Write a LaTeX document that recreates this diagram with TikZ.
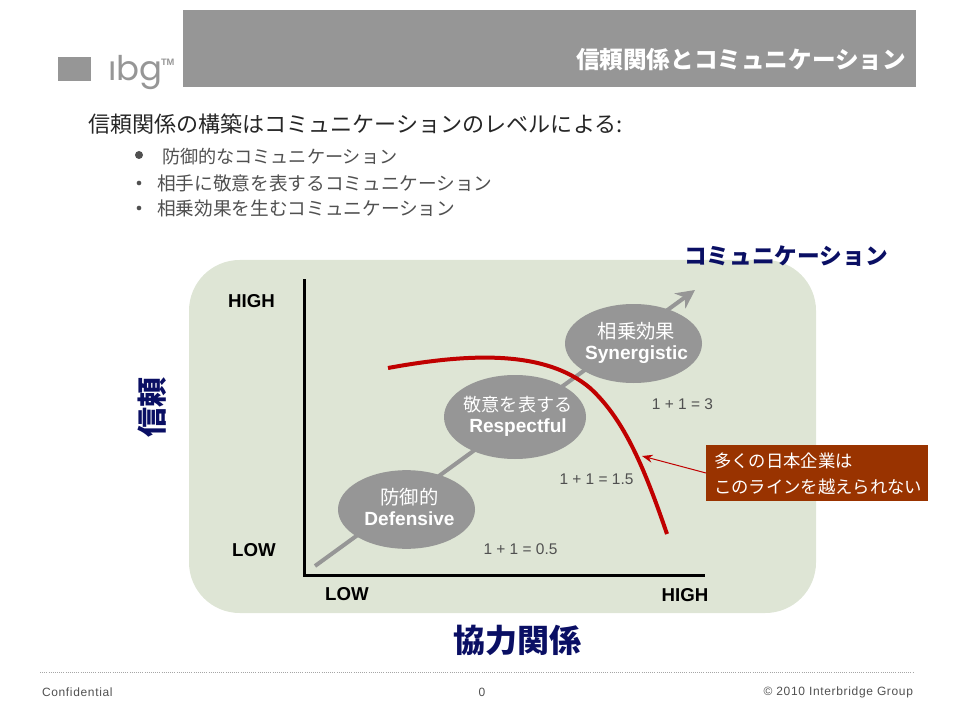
\documentclass[tikz,border=0pt]{standalone}
\usepackage{fontspec}
\setmainfont{Liberation Sans}
\newfontfamily\jpf{Noto Sans CJK JP}
\newfontfamily\logof{Poppins}
\usetikzlibrary{arrows.meta,shapes.geometric}
\definecolor{hdrgray}{HTML}{969696}
\definecolor{panel}{HTML}{DEE5D5}
\definecolor{navy}{HTML}{0A0F64}
\definecolor{curve}{HTML}{C00000}
\definecolor{callout}{HTML}{993300}
\definecolor{txtgray}{HTML}{505050}
\newcommand{\fsz}[1]{\fontsize{#1}{#1}\selectfont}
\newcommand{\levtext}[3]{\makebox[0pt]{\hspace{4.5pt}\raisebox{4pt}{\jpf\fsz{#3}#1}}\\[-0.5pt]\makebox[0pt]{\hspace{4.5pt}\raisebox{4pt}{\bfseries #2}}}
\tikzset{
  x=0.75pt,y=-0.75pt,
  lbl/.style={inner sep=0pt,outer sep=0pt},
  axislbl/.style={lbl,font=\fsz{14}\bfseries},
  eqlbl/.style={lbl,font=\fsz{11.6},text=txtgray},
  levelbox/.style={ellipse,fill=hdrgray,inner sep=0pt,text=white,align=center,font=\fsz{14.3}\linespread{1.17}\selectfont},
  bulletlbl/.style={lbl,anchor=west,text=txtgray,font=\jpf\fsz{14}},
  dotmark/.style={circle,fill=txtgray,inner sep=0pt},
  navylbl/.style={lbl,text=navy,font=\jpf\bfseries},
  footlbl/.style={lbl,text=txtgray,font=\fsz{9}\addfontfeature{LetterSpace=5.5}}
}
\begin{document}
\begin{tikzpicture}
\useasboundingbox (0,0) rectangle (963,720);
% header
\node[fill=hdrgray,lbl,anchor=north west,minimum width=549.75pt,minimum height=57.75pt] (hdr) at (183,10) {};
\node[lbl,anchor=east,text=white,font=\jpf\bfseries\fsz{17.7}] (title) at (906,60) {信頼関係とコミュニケーション};
% logo
\node[fill=hdrgray,lbl,anchor=north west,minimum width=24.75pt,minimum height=18pt] (logosq) at (58,57) {};
\node[lbl,anchor=base west,text=hdrgray,font=\logof\fsz{25.5}] (logo) at (108,81) {ıbg};
\node[lbl,anchor=base west,text=hdrgray,font=\fsz{7}\bfseries] (tm) at (161,66) {TM};
% heading
\node[lbl,anchor=west,text=black!85,font=\jpf\fsz{16.55}] (head) at (88,124) {信頼関係の構築はコミュニケーションのレベルによる:};
\node[dotmark,minimum size=6pt] (d1) at (139,155) {};
\node[dotmark,minimum size=3.5pt] (d2) at (139,183) {};
\node[dotmark,minimum size=3.5pt] (d3) at (139,208) {};
\node[bulletlbl,font=\jpf\fsz{13.6}] (b1) at (162,157) {防御的なコミュニケーション};
\node[bulletlbl] (b2) at (157,183) {相手に敬意を表するコミュニケーション};
\node[bulletlbl] (b3) at (157,208) {相乗効果を生むコミュニケーション};
% panel
\node[fill=panel,lbl,rounded corners=38pt,anchor=north west,minimum width=470.25pt,minimum height=264.75pt] (panelbox) at (189,260) {};
% trend arrow
\coordinate (trendA) at (315,566);
\coordinate (trendB) at (695,290);
\draw[hdrgray,line width=3pt,-{Stealth[length=14pt,width=14pt]}] (trendA) -- (trendB);
% axes
\coordinate (org) at (304,575.5);
\coordinate (yend) at (304,279);
\coordinate (xend) at (705,575.5);
\draw[black,line width=2.25pt] (yend) -- (org) -- (xend);
% ellipses
\node[levelbox,minimum width=102.75pt,minimum height=59pt] (def) at (406.5,509.5) {\levtext{防御的}{Defensive}{14.5}};
\node[levelbox,minimum width=106.5pt,minimum height=63pt] (res) at (515,417) {\levtext{敬意を表する}{Respectful}{13.6}};
\node[levelbox,minimum width=102.75pt,minimum height=59.25pt] (syn) at (633.5,343.5) {\levtext{相乗効果}{Synergistic}{14.5}};
% curve
\coordinate (cA) at (388,368);
\coordinate (cB) at (667,534);
\draw[curve,line width=3pt] (cA) .. controls (470,353) and (545,350) .. (590,388) .. controls (625,420) and (645,470) .. (cB);
% labels
\node[axislbl] (yhigh) at (251.5,301) {HIGH};
\node[axislbl] (ylow) at (254,550.5) {LOW};
\node[axislbl] (xlow) at (347,594) {LOW};
\node[axislbl] (xhigh) at (685,595) {HIGH};
\node[eqlbl] (eq3) at (682.5,404) {1 + 1 = 3};
\node[eqlbl] (eq15) at (596.5,479.5) {1 + 1 = 1.5};
\node[eqlbl] (eq05) at (520.5,549) {1 + 1 = 0.5};
\node[navylbl,font=\jpf\bfseries\fsz{17}] (comm) at (786,256) {コミュニケーション};
\node[navylbl,font=\jpf\bfseries\fsz{22.5},rotate=90] (trust) at (152,407) {信頼};
\node[navylbl,font=\jpf\bfseries\fsz{24}] (collab) at (517,640) {協力関係};
% callout
\node[fill=callout,lbl,anchor=north west,minimum width=166.5pt,minimum height=42pt] (callbox) at (706,445) {};
\node[lbl,anchor=west,text=white,align=left,font=\jpf\fsz{13}\linespread{1.5}\selectfont] (calltxt) at (714,474) {多くの日本企業は\\このラインを越えられない};
\coordinate (callpt) at (642,456);
\draw[curve,line width=0.75pt,-{Stealth[length=8pt,width=6pt]}] (callbox.west) -- (callpt);
% footer
\coordinate (fl) at (40,672);
\coordinate (fr) at (913,672);
\draw[gray!70,line width=0.6pt,densely dotted] (fl) -- (fr);
\node[footlbl,anchor=west] (conf) at (42,692) {Confidential};
\node[footlbl] (pg) at (482,692) {0};
\node[footlbl,anchor=east] (copy) at (913,692.5) {© 2010 Interbridge Group};
\end{tikzpicture}
\end{document}
